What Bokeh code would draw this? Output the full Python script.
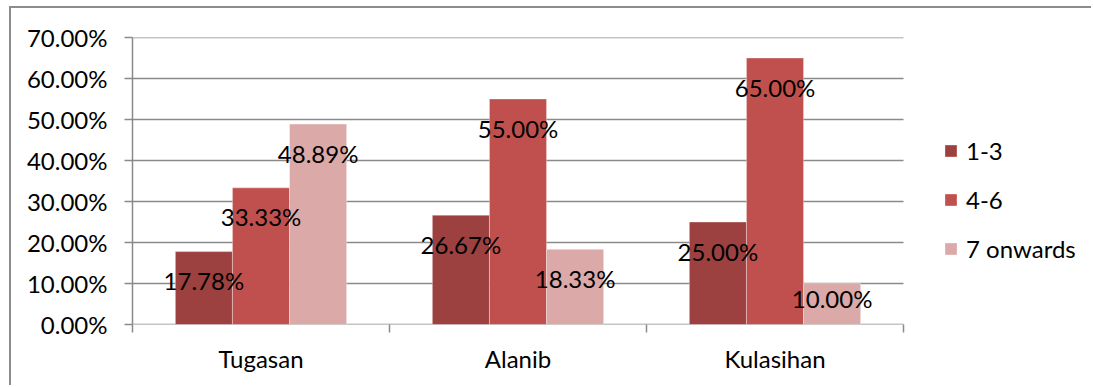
from bokeh.plotting import figure
from bokeh.models import (ColumnDataSource, FixedTicker, Legend, LegendItem,
                          Range1d)
from bokeh.core.properties import value
from bokeh.embed import file_html
from bokeh.resources import INLINE

# Share of respondents by household size group, per barangay (percent)
barangays = ["Tugasan", "Alanib", "Kulasihan"]
series_names = ["1-3", "4-6", "7 onwards"]
group_1_3 = [17.78, 26.67, 25.00]
group_4_6 = [33.33, 55.00, 65.00]
group_7_up = [48.89, 18.33, 10.00]
y_ticks = [0, 10, 20, 30, 40, 50, 60, 70]
y_tick_labels = ["0.00%", "10.00%", "20.00%", "30.00%", "40.00%",
                 "50.00%", "60.00%", "70.00%"]

colors = ["#9C4140", "#C0504D", "#DAA9A8"]
FONT = "Lato"
FS = "24px"
GRID = "#8a8a8a"

W, H = 1093, 387
# chart area starts at (9, 6) on the page, framed by a grey top/left edge
OX, OY, BW = 9, 6, 2
PLOT_L, PLOT_R, PLOT_T, PLOT_B = 132, 903, 37, 324
left, top = PLOT_L - OX - BW, PLOT_T - OY - BW
bottom = H - PLOT_B

n_cat = len(barangays)
# the frame runs to the right edge so the legend fits inside it;
# the categories occupy PLOT_L..PLOT_R
x_end = n_cat * (W - PLOT_L) / (PLOT_R - PLOT_L)

p = figure(width=W - OX - BW, height=H - OY - BW, output_backend="svg",
           toolbar_location=None,
           x_range=Range1d(0, x_end), y_range=Range1d(0, 70),
           min_border_left=left, min_border_right=0,
           min_border_top=top, min_border_bottom=bottom)
p.margin = (OY, 0, 0, OX)
p.styles = {"border-top": f"{BW}px solid #8c8c8c",
            "border-left": f"{BW}px solid #8c8c8c"}
p.outline_line_color = None
p.background_fill_color = "white"
p.border_fill_color = "white"

# Horizontal gridlines and baseline across the category span only
p.segment(x0=[0] * len(y_ticks), x1=[n_cat] * len(y_ticks),
          y0=y_ticks, y1=y_ticks, line_color=GRID, line_width=1.5)

# Bars: three per category, grouped around each category centre
bar_w = 2 / 9
offsets = [-bar_w, 0, bar_w]
all_series = [group_1_3, group_4_6, group_7_up]
px_per_unit = (PLOT_B - PLOT_T) / 70.0
renderers = []
for k, (vals, name) in enumerate(zip(all_series, series_names)):
    xs = [i + 0.5 + offsets[k] for i in range(n_cat)]
    src = ColumnDataSource(dict(x=xs, top=vals))
    r = p.vbar(x="x", top="top", bottom=0, width=bar_w, source=src,
               fill_color=colors[k], line_color="white", line_alpha=0.35,
               line_width=1)
    renderers.append((name, r))

# Value labels placed inside the top of each bar
lx, ly, lt, loff = [], [], [], []
for k, vals in enumerate(all_series):
    for i, v in enumerate(vals):
        lx.append(i + 0.5 + offsets[k])
        ly.append(v)
        lt.append(f"{v:.2f}%")
        bar_px = v * px_per_unit
        loff.append(29 if bar_px > 60 else bar_px * 0.36)
lsrc = ColumnDataSource(dict(x=lx, y=ly, t=lt, off=loff))
p.text(x="x", y="y", text="t", y_offset="off", source=lsrc,
       text_align="center", text_baseline="middle",
       text_font=value(FONT), text_font_size=FS, text_color="black")

# Y axis
p.yaxis.ticker = FixedTicker(ticks=y_ticks)
p.yaxis.major_label_overrides = {t: s for t, s in zip(y_ticks, y_tick_labels)}
p.yaxis.axis_line_color = GRID
p.yaxis.axis_line_width = 1.5
p.yaxis.major_tick_line_color = GRID
p.yaxis.major_tick_line_width = 1.5
p.yaxis.major_tick_in = 0
p.yaxis.major_tick_out = 8
p.yaxis.minor_tick_line_color = None
p.yaxis.major_label_standoff = 17
p.yaxis.major_label_text_font = FONT
p.yaxis.major_label_text_font_size = FS
p.yaxis.major_label_text_color = "black"

# X axis: category names at centres, tick marks at category boundaries
p.xaxis.ticker = FixedTicker(ticks=[i + 0.5 for i in range(n_cat)],
                             minor_ticks=list(range(n_cat + 1)))
p.xaxis.major_label_overrides = {i + 0.5: b for i, b in enumerate(barangays)}
p.xaxis.axis_line_color = None
p.xaxis.major_tick_line_color = None
p.xaxis.minor_tick_line_color = GRID
p.xaxis.minor_tick_line_width = 1.5
p.xaxis.minor_tick_in = 0
p.xaxis.minor_tick_out = 8
p.xaxis.major_label_standoff = 11
p.xaxis.major_label_text_font = FONT
p.xaxis.major_label_text_font_size = FS
p.xaxis.major_label_text_color = "black"

p.xgrid.grid_line_color = None
p.ygrid.grid_line_color = None

# Legend to the right of the bars
legend = Legend(items=[LegendItem(label=n, renderers=[r]) for n, r in renderers],
                location=(943 - PLOT_L, 61), orientation="vertical",
                glyph_width=15, glyph_height=15, label_standoff=8,
                spacing=20, padding=0, margin=0,
                border_line_color=None, background_fill_alpha=0,
                label_text_font=FONT, label_text_font_size=FS,
                label_text_color="black")
p.add_layout(legend, "center")

open("out.html", "w").write(file_html(p, INLINE))
